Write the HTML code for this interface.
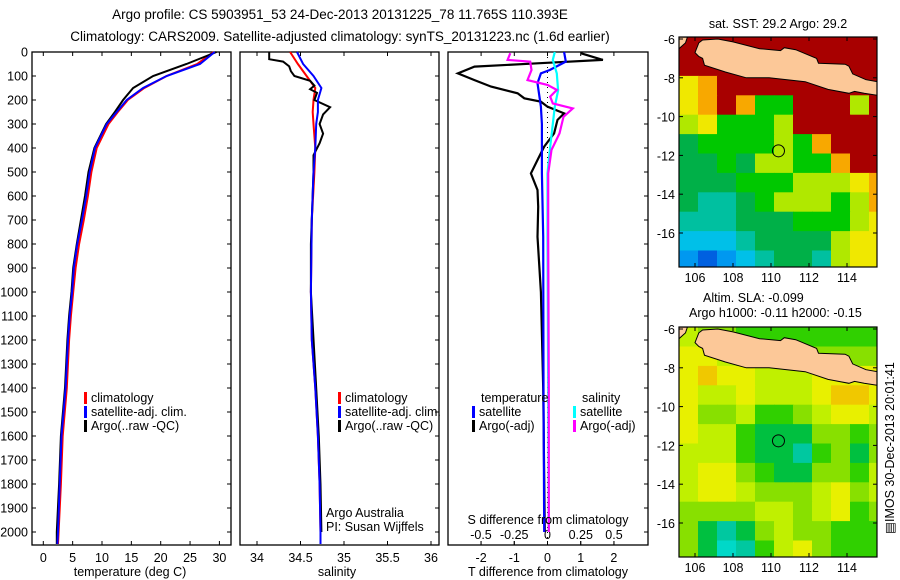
<!DOCTYPE html>
<html><head><meta charset="utf-8"><style>
html,body{margin:0;padding:0;background:#fff;}
svg{display:block;font-family:"Liberation Sans",sans-serif;}
text{font-size:12.5px;fill:#000;}
</style></head><body>
<svg id="fig" width="900" height="580" viewBox="0 0 900 580">
<text x="340" y="19" text-anchor="middle" style="font-size:13.5px">Argo profile: CS 5903951_53 24-Dec-2013 20131225_78 11.765S 110.393E</text>
<text x="340" y="41" text-anchor="middle" style="font-size:13.5px">Climatology: CARS2009. Satellite-adjusted climatology: synTS_20131223.nc (1.6d earlier)</text>
<g id="panels"></g>
<g id="maps"></g>
</svg>
<script>
// ---- depth axis ----
const depthTicks=[0,100,200,300,400,500,600,700,800,900,1000,1100,1200,1300,1400,1500,1600,1700,1800,1900,2000];
// ---- temperature panel data (depth, value) ----
const tempDepth=[0,50,100,150,200,250,300,400,500,600,700,800,900,1000,1100,1200,1400,1600,1800,2000,2050];
const tempClim=[29.0,26.2,21.0,17.2,14.4,12.7,11.1,9.1,8.2,7.6,6.9,6.1,5.5,5.1,4.7,4.4,4.0,3.3,3.0,2.6,2.5];
const tempSat=[29.2,26.7,21.0,17.0,14.2,12.5,10.8,8.8,7.9,7.3,6.6,5.8,5.2,4.9,4.5,4.2,3.8,3.1,2.8,2.5,2.4];
const tempArgo=[29.5,24.4,18.7,15.3,13.6,12.2,10.7,8.7,7.7,7.1,6.4,5.7,5.1,4.8,4.4,4.1,3.7,3.0,2.7,2.3,2.3];
const tempTicks=[0,5,10,15,20,25,30];
// ---- salinity panel data ----
const salClimDepth=[0,50,100,150,200,250,300,400,500,700,1000,1200,1400,1600,1800,2000,2050];
const salClim=[34.38,34.47,34.57,34.67,34.65,34.64,34.65,34.67,34.66,34.63,34.62,34.63,34.67,34.70,34.72,34.73,34.73];
const salSat=[34.46,34.53,34.65,34.74,34.70,34.70,34.68,34.67,34.65,34.63,34.62,34.63,34.67,34.70,34.72,34.73,34.73];
const salArgoDepth=[0,30,40,60,80,100,120,140,155,170,200,230,260,300,340,380,430,500,800,1000,1400,1600,1800,2000];
const salArgo=[34.14,34.14,34.30,34.37,34.39,34.43,34.61,34.66,34.61,34.69,34.66,34.84,34.76,34.72,34.76,34.72,34.65,34.65,34.62,34.62,34.68,34.71,34.73,34.74];
const salTicks=[34,34.5,35,35.5,36];
// ---- difference panel data ----
const tArgoDepth=[5,33,47,61,89,117,144,172,193,207,228,256,283,339,394,450,506,575,644,770,1000,1400,2000];
const tArgoDiff=[1.0,1.67,-0.3,-2.2,-2.7,-2.2,-1.7,-0.9,-0.7,-0.2,0,0.5,0.3,0.2,-0.1,-0.3,-0.5,-0.3,-0.28,-0.3,-0.2,-0.13,-0.08];
const tSatDepth=[0,40,75,89,130,228,300,506,770,1400,2000];
const tSatDiff=[0.5,0.55,0.07,-0.2,-0.3,-0.2,-0.17,-0.17,-0.13,-0.12,-0.1];
const sSatDepth=[0,33,89,160,228,300,394,506,770,1400,2000];
const sSatDiff=[0.055,0.04,0.07,0.08,0.055,0.04,0.02,0,0,0.005,0.01];
const sArgoDepth=[5,33,40,75,117,137,158,186,214,235,270,339,408,506,770,1400,2000];
const sArgoDiff=[-0.28,-0.3,-0.13,-0.12,-0.15,0,0.07,0.02,0.04,0.19,0.12,0.09,0.03,0.005,0.005,0.01,0.01];
const tDiffTicks=[-2,-1,0,1,2];
const sDiffTicks=[-0.5,-0.25,0,0.25,0.5];
const sDiffTickLabels=["-0.5","-0.25","0","0.25","0.5"];

const NS="http://www.w3.org/2000/svg";
function mk(tag,attrs,parent){const e=document.createElementNS(NS,tag);for(const k in attrs)e.setAttribute(k,attrs[k]);parent.appendChild(e);return e;}
const P=document.getElementById('panels');
const yTop=52,yBot=545;
const yD=d=>yTop+d*0.24;
const xT=t=>43.3+t*5.87;
const xS=s=>257+(s-34)*87;
const xTd=t=>547.5+t*33.2;
const xSd=s=>547.5+s*133;

function box(x0,x1,name){
  const r=mk('rect',{x:x0,y:yTop,width:x1-x0,height:yBot-yTop,fill:'none',stroke:'#000','stroke-width':1.3},P);
  
  
  depthTicks.forEach(d=>{
    mk('line',{x1:x1-4,x2:x1,y1:yD(d),y2:yD(d),stroke:'#000'},P);
  });
}
function stepLine(depths,vals,xf,color,w,name){
  let d='';
  depths.forEach((dp,i)=>{const x=xf(vals[i]).toFixed(1),y=yD(dp).toFixed(1);d+=(i?'L':'M')+x+' '+y;});
  const p=mk('path',{d:d,fill:'none',stroke:color,'stroke-width':w},P);
  
  
}
function txt(x,y,s,anchor,name,parent,extra){
  const t=mk('text',Object.assign({x:x,y:y,'text-anchor':anchor||'start'},extra||{}),parent||P);
  t.textContent=s;
  
  
  return t;
}
// panel 1
box(32,231,'temperature-panel');
depthTicks.forEach(d=>{mk('line',{x1:32,x2:36,y1:yD(d),y2:yD(d),stroke:'#000'},P);txt(28,yD(d)+4.5,String(d),'end','depth-tick-label');});
tempTicks.forEach(t=>{mk('line',{x1:xT(t),x2:xT(t),y1:yBot,y2:yBot-4,stroke:'#000'},P);mk('line',{x1:xT(t),x2:xT(t),y1:yTop,y2:yTop+4,stroke:'#000'},P);txt(xT(t),562,String(t),'middle','temperature-tick-label');});
stepLine(tempDepth,tempClim,xT,'#f00',2,'temperature-climatology-line');
stepLine(tempDepth,tempArgo,xT,'#000',2,'temperature-argo-line');
stepLine(tempDepth,tempSat,xT,'#00f',2,'temperature-satellite-line');
txt(130,576,'temperature (deg C)','middle','temperature-axis-title');
// panel 2
box(240,439,'salinity-panel');
salTicks.forEach(s=>{mk('line',{x1:xS(s),x2:xS(s),y1:yBot,y2:yBot-4,stroke:'#000'},P);mk('line',{x1:xS(s),x2:xS(s),y1:yTop,y2:yTop+4,stroke:'#000'},P);txt(xS(s),562,String(s),'middle','salinity-tick-label');});
stepLine(salClimDepth,salClim,xS,'#f00',2,'salinity-climatology-line');
stepLine(salArgoDepth,salArgo,xS,'#000',2,'salinity-argo-line');
stepLine(salClimDepth,salSat,xS,'#00f',2,'salinity-satellite-line');
txt(337,576,'salinity','middle','salinity-axis-title');
txt(326,517,'Argo Australia','start','credit-argo-australia');
txt(326,531,'PI: Susan Wijffels','start','credit-pi');
// legends
function legend(x,y,color,label,name){
  mk('rect',{x:x,y:y-10,width:3,height:12,fill:color},P);
  txt(x+7,y,label,'start',name);
}
[[84,'#f00','climatology'],[84,'#00f','satellite-adj. clim.'],[84,'#000','Argo(..raw -QC)']].forEach((l,i)=>legend(l[0],402+i*14,l[1],l[2],'temperature-legend-entry'));
[[338,'#f00','climatology'],[338,'#00f','satellite-adj. clim.'],[338,'#000','Argo(..raw -QC)']].forEach((l,i)=>legend(l[0],402+i*14,l[1],l[2],'salinity-legend-entry'));
// panel 3
box(448,648,'difference-panel');
mk('line',{x1:xTd(0),x2:xTd(0),y1:yTop,y2:yBot,stroke:'#000','stroke-dasharray':'1,4'},P);
tDiffTicks.forEach(t=>{mk('line',{x1:xTd(t),x2:xTd(t),y1:yBot,y2:yBot-4,stroke:'#000'},P);mk('line',{x1:xTd(t),x2:xTd(t),y1:yTop,y2:yTop+4,stroke:'#000'},P);txt(xTd(t),562,String(t),'middle','t-diff-tick-label');});
sDiffTicks.forEach((s,i)=>{mk('line',{x1:xSd(s),x2:xSd(s),y1:yBot,y2:yBot-4,stroke:'#000'},P);txt(xSd(s),539,sDiffTickLabels[i],'middle','s-diff-tick-label');});
stepLine(tArgoDepth,tArgoDiff,xTd,'#000',2.2,'t-diff-argo-line');
stepLine(tSatDepth,tSatDiff,xTd,'#00f',2.2,'t-diff-satellite-line');
stepLine(sSatDepth,sSatDiff,xSd,'#0ff',2.2,'s-diff-satellite-line');
stepLine(sArgoDepth,sArgoDiff,xSd,'#f0f',2.2,'s-diff-argo-line');
txt(548,524,'S difference from climatology','middle','s-diff-axis-title');
txt(548,576,'T difference from climatology','middle','t-diff-axis-title');
txt(481,402,'temperature','start','legend-temperature-header');
legend(472,416,'#00f','satellite','legend-t-satellite');
legend(472,430,'#000','Argo(-adj)','legend-t-argo');
txt(582,402,'salinity','start','legend-salinity-header');
legend(573,416,'#0ff','satellite','legend-s-satellite');
legend(573,430,'#f0f','Argo(-adj)','legend-s-argo');

// ---- maps ----
const mapLonTicks=[106,108,110,112,114];
const mapLatTicks=[-6,-8,-10,-12,-14,-16];
const sstPalette=['#a80000','#f8a800','#f0e800','#b0e800','#00c800','#00b048','#00c0a0','#00c0e8','#0098f0','#0060e0'];
const sstGrid=[
[0,0,0,0,0,0,0,0,0,0,0],
[0,0,0,0,0,0,0,0,0,0,0],
[2,1,0,0,0,0,0,0,0,0,0],
[2,1,0,1,4,4,0,0,0,3,0],
[3,2,4,4,4,3,0,0,0,0,0],
[5,4,4,4,4,3,4,1,0,0,0],
[5,5,4,5,3,3,4,4,1,0,0],
[5,5,5,4,4,4,3,3,3,2,1],
[5,6,6,5,4,3,3,3,4,3,1],
[6,6,6,5,5,5,4,4,4,3,2],
[7,7,7,6,5,5,5,5,3,2,2],
[8,9,8,7,6,5,5,6,3,2,2]];
const slaPalette=['#f0c800','#e8f000','#c0f000','#88e000','#30d000','#00c040','#00c8a0','#00d8c8'];
const slaGrid=[
[2,3,3,4,4,4,4,4,4,4,4],
[1,1,2,3,3,3,3,3,3,3,3],
[1,0,1,1,2,2,2,1,1,1,1],
[1,2,2,1,2,2,2,1,0,0,1],
[1,3,3,2,4,4,3,2,1,1,2],
[1,2,2,4,5,5,5,3,3,4,3],
[2,2,2,4,5,5,6,4,3,5,3],
[2,1,1,3,4,5,5,3,3,4,2],
[2,1,1,2,3,3,3,2,1,3,2],
[3,3,3,3,2,2,3,2,1,4,3],
[3,5,6,5,3,2,3,3,4,4,4],
[3,5,7,6,4,2,1,3,4,4,4]];
const argoLon=110.393, argoLat=-11.765;
const M=document.getElementById('maps');
const javaLL=[[106.4,-6.05],[107.2,-6.0],[108.0,-6.15],[109.4,-6.5],[110.5,-6.6],[110.7,-6.45],[111.3,-6.55],[112.4,-7.0],[112.5,-7.25],[113.9,-7.3],[114.1,-7.4],[114.3,-7.8],[115.0,-8.1],[115.6,-8.2],[115.6,-8.9],[114.9,-8.8],[114.4,-8.7],[114.1,-8.8],[113.0,-8.6],[111.8,-8.2],[109.9,-8.0],[108.7,-8.0],[107.6,-7.7],[106.5,-7.35],[106.4,-7.0],[106.2,-6.9],[106.0,-6.7],[106.2,-6.2]];
function drawMap(y6,grid,pal,name){
  const x0=679,x1=877,yt=y6-2,yb=y6+228;
  const lx=lon=>695+(lon-106)*19, ly=lat=>y6+(-6-lat)*19.4;
  const g=mk('g',{},M);
  
  
  const cp=mk('clipPath',{id:name+'-clip'},g);
  mk('rect',{x:x0,y:yt,width:x1-x0,height:yb-yt},cp);
  const gg=mk('g',{'clip-path':'url(#'+name+'-clip)'},g);
  grid.forEach((row,r)=>row.forEach((v,c)=>{
    const cell=mk('rect',{x:lx(105.16+c).toFixed(1),y:ly(-5.9-r).toFixed(1),width:19.6,height:20,fill:pal[v]},gg);
    
    
  }));
  const land=mk('polygon',{points:javaLL.map(p=>lx(p[0]).toFixed(1)+','+ly(p[1]).toFixed(1)).join(' '),fill:'#fcc898',stroke:'#000','stroke-width':1},gg);
  
  
  const sum=mk('polygon',{points:[[105.16,-5.9],[105.6,-5.9],[105.5,-6.2],[105.16,-6.5]].map(p=>lx(p[0]).toFixed(1)+','+ly(p[1]).toFixed(1)).join(' '),fill:'#fcc898',stroke:'#000'},gg);
  
  
  const circ=mk('circle',{cx:lx(argoLon),cy:ly(argoLat),r:6,fill:'none',stroke:'#000','stroke-width':1},gg);
  
  
  mk('rect',{x:x0,y:yt,width:x1-x0,height:yb-yt,fill:'none',stroke:'#000','stroke-width':1.2},g);
  mapLonTicks.forEach(l=>{mk('line',{x1:lx(l),x2:lx(l),y1:yt,y2:yt+4,stroke:'#000'},g);mk('line',{x1:lx(l),x2:lx(l),y1:yb,y2:yb-4,stroke:'#000'},g);txt(lx(l),yb+15,String(l),'middle','map-lon-tick-label',g);});
  mapLatTicks.forEach(l=>{mk('line',{x1:x0,x2:x0+4,y1:ly(l),y2:ly(l),stroke:'#000'},g);mk('line',{x1:x1-4,x2:x1,y1:ly(l),y2:ly(l),stroke:'#000'},g);txt(x0-4,ly(l)+5,String(l),'end','map-lat-tick-label',g);});
}
drawMap(39,sstGrid,sstPalette,'sst-map');
drawMap(329,slaGrid,slaPalette,'sla-map');
txt(778,28,'sat. SST: 29.2 Argo: 29.2','middle','sst-map-title',M);
txt(703,302,'Altim. SLA: -0.099','start','sla-map-title',M);
txt(689,317,'Argo h1000: -0.11 h2000: -0.15','start','sla-map-subtitle',M);
txt(0,0,'\u25A4IMOS 30-Dec-2013 20:01:41','middle','timestamp',M,{transform:'translate(894,448) rotate(-90)'});
</script>
</body></html>
